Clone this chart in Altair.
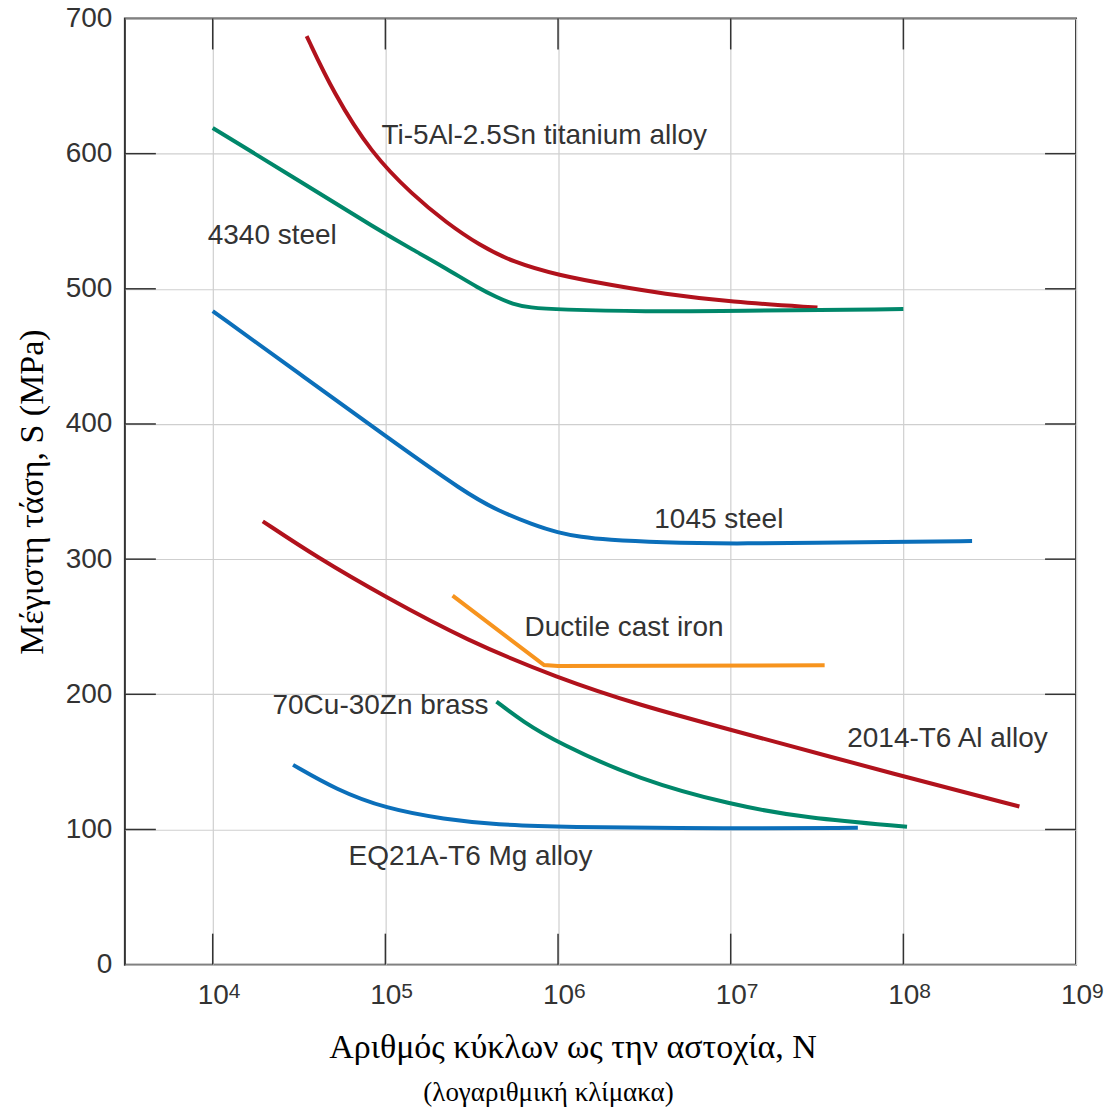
import altair as alt
import pandas as pd

# ---- data ----
ti_N = [3.5e4, 5.0e4, 8.32e4, 1.44e5, 2.25e5, 3.51e5, 5.47e5, 1e6, 2.07e6, 4.04e6, 1e7, 3.18e7]
ti_S = [687, 645, 600, 569.5, 549, 532.2, 519.8, 510, 502.6, 496.4, 490.3, 486.1]

s4340_N = [1e4, 3.16e4, 9.25e4, 1.44e5, 2.25e5, 3.51e5, 4.38e5, 5.47e5, 6.82e5, 1e6, 3.24e6, 1e7, 1e8]
s4340_S = [619, 580, 543, 529, 515, 500.1, 494, 488.6, 486.1, 484.6, 483.1, 483.6, 485]

s1045_N = [1e4, 3.16e4, 1e5, 2.94e5, 4.47e5, 7.13e5, 1e6, 1.36e6, 1.9e6, 3.98e6, 1e7, 1e8, 2.5e8]
s1045_S = [483.5, 437.5, 391, 348.6, 336, 325.5, 319.5, 316.3, 314.3, 312.3, 311.2, 312.9, 313.4]

al_N = [1.95e4, 4e4, 1e5, 2.94e5, 1e6, 2.96e6, 1e7, 1e8, 4.7e8]
al_S = [328, 301.5, 272, 240, 212, 192, 173.7, 139.2, 117]

brass_N = [4.4e5, 6.25e5, 1e6, 2.96e6, 1e7, 2.72e7, 1.05e8]
brass_S = [194.6, 179.8, 164, 136.7, 118.3, 108.4, 102]

mg_N = [2.92e4, 5.2e4, 1e5, 2.2e5, 4.5e5, 1e6, 1e7, 5.45e7]
mg_S = [147.8, 129.4, 115.5, 107.5, 103.5, 101.8, 100.5, 101.2]

iron_N = [2.45e5, 8.3e5, 1e6, 3.5e7]
iron_S = [273, 221.7, 221, 221.5]

curve_names = ["Ti", "4340", "1045", "Al", "Brass", "Mg", "Iron"]
curve_colors = ["#B1121C", "#00876A", "#0B6FBA", "#B1121C", "#00876A", "#0B6FBA", "#F7941E"]

label_text = ["Ti-5Al-2.5Sn titanium alloy", "4340 steel", "1045 steel",
              "Ductile cast iron", "70Cu-30Zn brass", "2014-T6 Al alloy",
              "EQ21A-T6 Mg alloy"]
label_N = [9.5e4, 9.36e3, 3.61e6, 6.4e5, 2.22e4, 4.73e7, 6.12e4]
label_S = [612.8, 538.8, 328.9, 249, 191.4, 167, 79.8]

x_tick_values = [1e4, 1e5, 1e6, 1e7, 1e8, 1e9]
x_tick_exponents = ["4", "5", "6", "7", "8", "9"]
y_tick_values = [0, 100, 200, 300, 400, 500, 600, 700]
inner_x_ticks = [1e4, 1e5, 1e6, 1e7, 1e8]
inner_y_ticks = [100, 200, 300, 400, 500, 600]

# ---- tables ----
rows = []
for name, Ns, Ss in [("Ti", ti_N, ti_S), ("4340", s4340_N, s4340_S),
                     ("1045", s1045_N, s1045_S), ("Al", al_N, al_S),
                     ("Brass", brass_N, brass_S), ("Mg", mg_N, mg_S)]:
    for i, (n, s) in enumerate(zip(Ns, Ss)):
        rows.append({"curve": name, "N": n, "S": s, "order": i})
smooth_df = pd.DataFrame(rows)
iron_df = pd.DataFrame({"curve": "Iron", "N": iron_N, "S": iron_S,
                        "order": list(range(len(iron_N)))})
labels_df = pd.DataFrame({"label": label_text, "N": label_N, "S": label_S})
exp_df = pd.DataFrame({"N": x_tick_values, "exp": x_tick_exponents})
xt_df = pd.DataFrame({"N": inner_x_ticks})
yt_df = pd.DataFrame({"S": inner_y_ticks})

W, H = 952, 947
TICK = 31

xscale = alt.Scale(type="log", domain=[3100, 1e9], nice=False)
yscale = alt.Scale(domain=[0, 700], nice=False)

xaxis = alt.Axis(
    values=x_tick_values,
    labelExpr="'10'",
    title="Αριθμός κύκλων ως την αστοχία, N",
    titleX=448, titleY=93, titleBaseline="alphabetic",
    labelPadding=17, ticks=False, domain=False,
    grid=True, gridColor="#cfcfcf", gridWidth=1.2,
    labelFlush=False, labelOverlap=False,
)
yaxis = alt.Axis(
    values=y_tick_values,
    title="Μέγιστη τάση, S (MPa)",
    titlePadding=16, labelPadding=13, ticks=False, domain=False,
    grid=True, gridColor="#cfcfcf", gridWidth=1.2,
    labelFlush=False, labelOverlap=False,
)

def X():
    return alt.X("N:Q", scale=xscale, axis=xaxis)

def Y():
    return alt.Y("S:Q", scale=yscale, axis=yaxis)

color = alt.Color("curve:N", scale=alt.Scale(domain=curve_names, range=curve_colors), legend=None)

smooth = alt.Chart(smooth_df).mark_line(strokeWidth=4, interpolate="basis", strokeCap="butt").encode(
    x=X(), y=Y(), color=color, detail="curve:N", order="order:Q")
iron = alt.Chart(iron_df).mark_line(strokeWidth=4, interpolate="linear", strokeCap="butt").encode(
    x=X(), y=Y(), color=color, order="order:Q")

tick_style = dict(color="#333333", strokeWidth=1.5)
top_ticks = alt.Chart(xt_df).mark_rule(**tick_style).encode(
    x=X(), y=alt.value(0), y2=alt.value(TICK))
bot_ticks = alt.Chart(xt_df).mark_rule(**tick_style).encode(
    x=X(), y=alt.value(H), y2=alt.value(H - TICK))
left_ticks = alt.Chart(yt_df).mark_rule(**tick_style).encode(
    y=Y(), x=alt.value(0), x2=alt.value(TICK))
right_ticks = alt.Chart(yt_df).mark_rule(**tick_style).encode(
    y=Y(), x=alt.value(W - TICK), x2=alt.value(W))

exponents = alt.Chart(exp_df).mark_text(
    align="left", baseline="top", font="Liberation Sans", fontSize=21, color="#333333", dx=16
).encode(x=X(), y=alt.value(H + 16), text="exp:N")

texts = alt.Chart(labels_df).mark_text(
    align="left", baseline="middle", font="Liberation Sans", fontSize=28, color="#333333"
).encode(x=X(), y=Y(), text="label:N")

chart = alt.layer(top_ticks, bot_ticks, left_ticks, right_ticks, smooth, iron, texts, exponents).properties(
    width=W, height=H,
    padding={"left": 15, "top": 4, "right": 5, "bottom": 5},
    title=alt.TitleParams(
        "(λογαριθμική κλίμακα)", orient="bottom", anchor="middle", frame="group",
        dx=-52, offset=15, font="Liberation Serif", fontSize=27, fontWeight="normal",
        color="#000000"),
).configure_view(
    stroke="#333333", strokeWidth=2
).configure_axis(
    labelFont="Liberation Sans", labelFontSize=28, labelColor="#333333",
    titleFont="Liberation Serif", titleFontSize=34, titleFontWeight="normal",
    titleColor="#000000",
)

chart.save("out.html", embed_options={"renderer": "svg", "actions": False})
